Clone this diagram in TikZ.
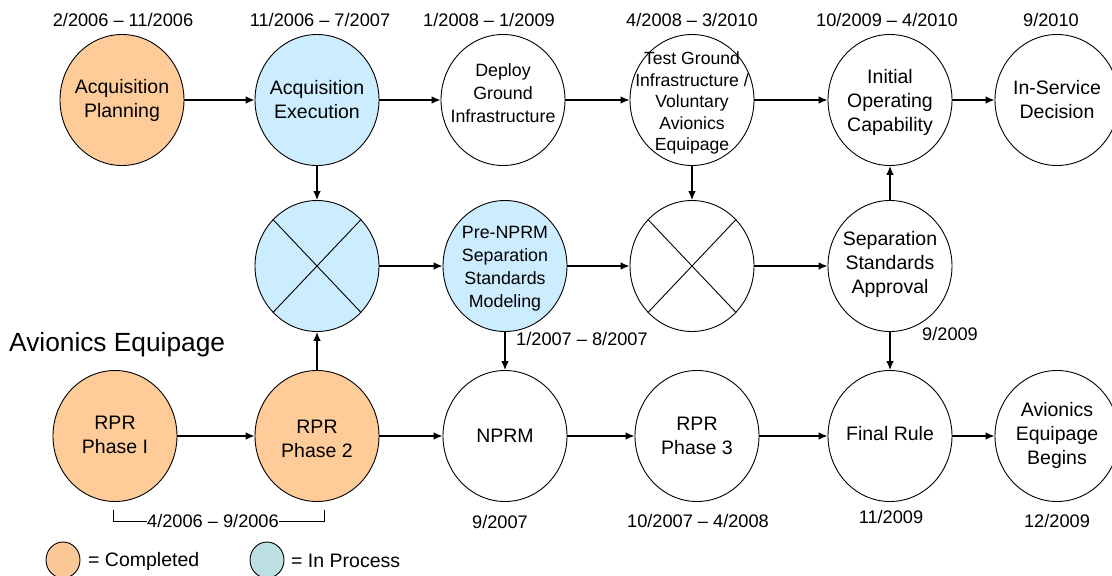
\documentclass[tikz,border=0pt]{standalone}
\usepackage{fontspec}
\setmainfont{Liberation Sans}
\usetikzlibrary{shapes.geometric,arrows.meta,calc}
\definecolor{done}{HTML}{FFCC99}
\definecolor{inproc}{HTML}{CCECFF}
\definecolor{legdone}{HTML}{FAC896}
\definecolor{legproc}{HTML}{BCDFE3}
\begin{document}
\begin{tikzpicture}[x=1pt,y=-1pt,
  circ/.style={ellipse,draw=black,line width=0.9pt,minimum width=124pt,minimum height=131pt,inner sep=0pt},
  lbl/.style={align=center,font=\fontsize{19.5}{24}\selectfont,inner sep=0pt},
  lblsm/.style={align=center,font=\fontsize{17.8}{23}\selectfont,inner sep=0pt},
  lbltiny/.style={align=center,font=\fontsize{17.6}{21.5}\selectfont,inner sep=0pt},
  datetxt/.style={font=\fontsize{18.2}{22}\selectfont,inner sep=0pt},
  conn/.style={line width=1.2pt,-{Latex[length=9pt,width=7.5pt]}},
  plain/.style={line width=1pt}]
\useasboundingbox (0,0) rectangle (1112,576);
% row 1
\node[circ,fill=done] (P) at (122,100) {};
\node[lbl] at (P) {Acquisition\\Planning};
\node[circ,fill=inproc] (E) at (317,100) {};
\node[lbl] at (E) {Acquisition\\Execution};
\node[circ,fill=white] (D) at (503,100) {};
\node[lblsm] at ($(D)+(0,-7)$) {Deploy\\Ground\\Infrastructure};
\node[circ,fill=white] (T) at (692,100) {};
\node[lbltiny] at ($(T)+(0,3)$) {Test Ground\\Infrastructure /\\Voluntary\\Avionics\\Equipage};
\node[circ,fill=white] (I) at (890,100) {};
\node[lbl] at ($(I)+(0,2)$) {Initial\\Operating\\Capability};
\node[circ,fill=white] (S) at (1057,100) {};
\node[lbl] at (S) {In-Service\\Decision};
% row 2
\node[circ,fill=inproc] (X1) at (317,266) {};
\draw[line width=0.9pt] (X1.north east) -- (X1.south west) (X1.north west) -- (X1.south east);
\node[circ,fill=inproc] (PN) at (505,266) {};
\node[lblsm] at ($(PN)+(0,3)$) {Pre-NPRM\\Separation\\Standards\\Modeling};
\node[circ,fill=white] (X2) at (692,266) {};
\draw[line width=0.9pt] (X2.north east) -- (X2.south west) (X2.north west) -- (X2.south east);
\node[circ,fill=white] (SA) at (890,266) {};
\node[lbl] at ($(SA)+(0,-2)$) {Separation\\Standards\\Approval};
% row 3
\node[circ,fill=done] (R1) at (115,436) {};
\node[lbl] at ($(R1)+(0,-1)$) {RPR\\Phase I};
\node[circ,fill=done] (R2) at (317,436) {};
\node[lbl] at ($(R2)+(0,3)$) {RPR\\Phase 2};
\node[circ,fill=white] (N) at (505,436) {};
\node[lbl] at ($(N)+(0,0)$) {NPRM};
\node[circ,fill=white] (R3) at (697,436) {};
\node[lbl] at ($(R3)+(0,0)$) {RPR\\Phase 3};
\node[circ,fill=white] (F) at (890,436) {};
\node[lbl] at ($(F)+(0,-2)$) {Final Rule};
\node[circ,fill=white] (A) at (1057,436) {};
\node[lbl] at ($(A)+(0,-1)$) {Avionics\\Equipage\\Begins};
% connectors
\draw[conn] (P) -- (E);
\draw[conn] (E) -- (D);
\draw[conn] (D) -- (T);
\draw[conn] (T) -- (I);
\draw[conn] (I) -- (S);
\draw[conn] (E) -- (X1);
\draw[conn] (R2) -- (X1);
\draw[conn] (X1) -- (PN);
\draw[conn] (PN) -- (X2);
\draw[conn] (X2) -- (SA);
\draw[conn] (T) -- (X2);
\draw[conn] (SA) -- (I);
\draw[conn] (SA) -- (F);
\draw[conn] (PN) -- (N);
\draw[conn] (R1) -- (R2);
\draw[conn] (R2) -- (N);
\draw[conn] (N) -- (R3);
\draw[conn] (R3) -- (F);
\draw[conn] (F) -- (A);
% dates
\node[datetxt] (d1) at (123,20) {2/2006 – 11/2006};
\node[datetxt] (d2) at (320,20) {11/2006 – 7/2007};
\node[datetxt] (d3) at (489,20) {1/2008 – 1/2009};
\node[datetxt] (d4) at (692,20) {4/2008 – 3/2010};
\node[datetxt] (d5) at (887,20) {10/2009 – 4/2010};
\node[datetxt] (d6) at (1051,20) {9/2010};
\node[datetxt,anchor=west] (d7) at (516,339) {1/2007 – 8/2007};
\node[datetxt,anchor=west] (d8) at (922,334) {9/2009};
\node[datetxt] (d9) at (500,522) {9/2007};
\node[datetxt] (d10) at (698,521) {10/2007 – 4/2008};
\node[datetxt] (d11) at (891,517) {11/2009};
\node[datetxt] (d12) at (1057,521) {12/2009};
\node[datetxt,anchor=west] (br) at (147,521) {4/2006 – 9/2006};
\coordinate (bl) at (113,510);
\coordinate (brr) at (324,510);
\draw[plain] (bl) |- (br.west);
\draw[plain] (br.east) -| (brr);
% title
\node[font=\fontsize{26.3}{30}\selectfont,anchor=west,inner sep=0pt] (title) at (9,345) {Avionics Equipage};
% legend
\node[ellipse,draw=black,line width=0.9pt,fill=legdone,minimum width=34pt,minimum height=36pt,inner sep=0pt] (lg1) at (63,560) {};
\node[lbl,anchor=west] (lt1) at (88,561) {= Completed};
\node[ellipse,draw=black,line width=0.9pt,fill=legproc,minimum width=34pt,minimum height=36pt,inner sep=0pt] (lg2) at (267,560) {};
\node[lbl,anchor=west] (lt2) at (291,561) {= In Process};
\end{tikzpicture}
\end{document}
